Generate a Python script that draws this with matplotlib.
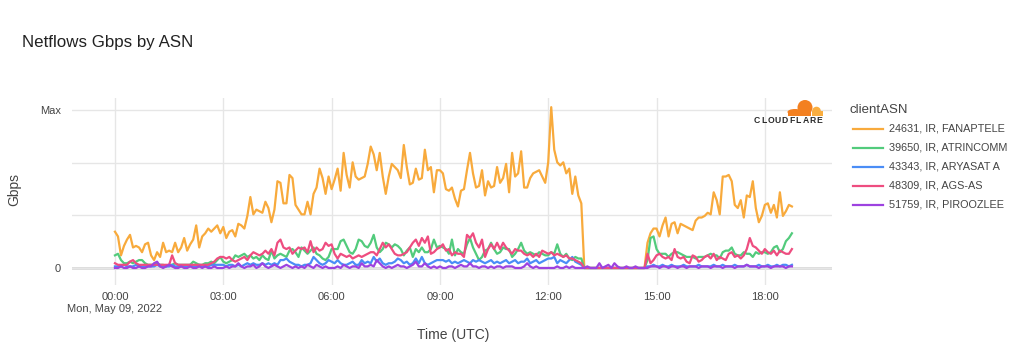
import numpy as np
import matplotlib.pyplot as plt
from matplotlib.lines import Line2D
from matplotlib.patches import Circle, Ellipse, Rectangle

plt.rcParams['font.family'] = ['Liberation Sans', 'DejaVu Sans']

# 5-minute samples from Mon, May 09, 2022 00:00 UTC, in % of Max
fanaptele = [
    23, 20, 8, 14, 18, 21, 13, 14, 13, 10, 15, 16,
    8, 5, 10, 7, 16, 10, 11, 10, 16, 10, 13, 19,
    11, 15, 18, 27, 13, 20, 22, 25, 23, 25, 27, 22,
    26, 19, 23, 24, 20, 28, 27, 25, 33, 45, 34, 37,
    36, 35, 42, 38, 29, 37, 55, 54, 41, 41, 59, 57,
    40, 37, 34, 34, 42, 34, 47, 51, 63, 57, 47, 58,
    50, 56, 63, 49, 73, 59, 51, 67, 58, 56, 57, 58,
    66, 77, 72, 62, 73, 58, 47, 58, 66, 64, 62, 57,
    78, 64, 53, 54, 63, 56, 57, 75, 62, 64, 48, 62,
    62, 60, 50, 49, 51, 44, 39, 49, 50, 62, 73, 60,
    51, 52, 62, 46, 55, 51, 52, 64, 54, 57, 66, 48,
    73, 58, 60, 74, 51, 51, 57, 60, 61, 62, 58, 54,
    67, 102, 75, 67, 65, 67, 60, 63, 47, 58, 46, 41,
    0, 0, 0, 0, 0, 0, 0, 0, 0, 0, 0, 0,
    0, 0, 0, 0, 0, 0, 0, 0, 0, 16, 22, 25,
    25, 20, 27, 32, 20, 28, 29, 22, 28, 27, 26, 25,
    24, 30, 32, 32, 33, 35, 34, 48, 43, 34, 58, 58,
    59, 55, 40, 38, 43, 32, 46, 45, 55, 38, 29, 33,
    40, 41, 35, 40, 32, 48, 33, 36, 40, 39,
]
atrincomm = [
    8, 9, 5, 3, 3, 4, 3, 4, 5, 5, 3, 2,
    2, 2, 3, 2, 2, 1, 2, 2, 3, 2, 2, 2,
    2, 2, 4, 3, 2, 2, 3, 3, 4, 3, 5, 7,
    4, 3, 4, 5, 8, 7, 8, 9, 7, 8, 6, 7,
    5, 8, 6, 5, 11, 6, 8, 9, 8, 7, 11, 12,
    10, 7, 13, 11, 9, 11, 13, 9, 8, 6, 5, 7,
    12, 12, 12, 17, 18, 14, 10, 9, 12, 18, 17, 14,
    13, 16, 21, 13, 10, 12, 16, 15, 13, 15, 14, 12,
    8, 11, 13, 7, 12, 10, 13, 10, 10, 12, 18, 13,
    14, 13, 12, 9, 18, 8, 12, 10, 9, 15, 19, 13,
    9, 5, 7, 11, 12, 16, 12, 9, 10, 13, 12, 12,
    7, 9, 12, 16, 11, 9, 10, 9, 8, 10, 9, 8,
    8, 10, 9, 15, 9, 7, 9, 6, 5, 7, 6, 6,
    0, 0, 0, 0, 0, 0, 0, 0, 0, 0, 0, 0,
    0, 0, 0, 0, 0, 0, 0, 0, 0, 5, 19, 20,
    12, 9, 9, 9, 7, 9, 10, 10, 9, 8, 7, 7,
    7, 6, 7, 7, 7, 8, 9, 8, 8, 6, 10, 11,
    11, 13, 9, 8, 8, 10, 9, 9, 7, 10, 9, 10,
    10, 9, 10, 13, 14, 10, 12, 17, 19, 22,
]
aryasat = [
    1, 1, 1, 2, 1, 1, 1, 2, 1, 1, 1, 1,
    1, 1, 2, 1, 1, 1, 1, 2, 1, 1, 1, 1,
    1, 2, 1, 1, 2, 1, 1, 1, 2, 2, 2, 2,
    2, 1, 2, 2, 1, 2, 1, 2, 3, 2, 3, 2,
    2, 3, 2, 3, 2, 3, 2, 5, 5, 6, 4, 3,
    2, 2, 1, 2, 2, 3, 7, 5, 3, 2, 3, 5,
    4, 3, 5, 3, 2, 2, 3, 4, 2, 2, 5, 3,
    4, 3, 7, 4, 6, 3, 2, 3, 3, 4, 6, 5,
    3, 4, 2, 3, 6, 3, 7, 3, 2, 3, 4, 5,
    5, 5, 4, 5, 3, 4, 3, 4, 5, 4, 3, 5,
    4, 5, 4, 3, 4, 5, 3, 4, 3, 4, 5, 3,
    4, 5, 3, 4, 4, 6, 3, 4, 5, 3, 4, 5,
    6, 6, 7, 3, 5, 4, 3, 5, 7, 4, 3, 2,
    0, 0, 0, 0, 0, 0, 0, 0, 0, 0, 0, 0,
    0, 0, 0, 0, 0, 0, 0, 0, 0, 1, 1, 2,
    1, 1, 2, 1, 1, 2, 1, 1, 1, 2, 1, 1,
    1, 1, 2, 1, 1, 1, 1, 2, 1, 1, 2, 1,
    1, 1, 2, 1, 1, 1, 2, 1, 1, 1, 2, 1,
    1, 2, 1, 1, 2, 1, 2, 2, 1, 2,
]
ags_as = [
    3, 2, 2, 2, 2, 4, 5, 3, 2, 2, 2, 2,
    2, 2, 2, 2, 2, 2, 2, 8, 3, 2, 2, 2,
    2, 2, 2, 2, 2, 2, 2, 2, 3, 4, 6, 7,
    7, 6, 7, 5, 4, 5, 6, 7, 5, 8, 10, 9,
    8, 9, 11, 9, 12, 8, 16, 18, 13, 12, 13, 9,
    11, 13, 12, 13, 10, 17, 10, 13, 11, 12, 16, 14,
    15, 9, 6, 9, 8, 7, 8, 6, 7, 8, 7, 8,
    9, 10, 10, 8, 12, 16, 13, 15, 12, 9, 8, 8,
    9, 10, 13, 16, 18, 14, 19, 16, 20, 9, 10, 12,
    13, 15, 11, 12, 8, 10, 9, 9, 7, 21, 19, 22,
    16, 13, 18, 7, 12, 15, 12, 16, 12, 16, 13, 11,
    9, 12, 11, 11, 9, 8, 9, 7, 9, 7, 11, 10,
    9, 10, 8, 9, 8, 7, 8, 6, 6, 5, 4, 3,
    0, 0, 0, 0, 0, 0, 0, 0, 0, 0, 0, 0,
    0, 0, 0, 0, 0, 0, 0, 0, 0, 9, 3, 5,
    8, 9, 7, 6, 7, 5, 12, 7, 6, 7, 4, 3,
    8, 7, 4, 5, 7, 8, 6, 9, 5, 7, 6, 5,
    9, 10, 7, 8, 6, 8, 12, 19, 14, 13, 11, 9,
    12, 10, 9, 11, 8, 11, 10, 9, 9, 12,
]
piroozlee = [
    0, 0, 1, 0, 0, 1, 0, 0, 1, 0, 0, 1,
    1, 3, 4, 1, 0, 1, 2, 1, 0, 0, 1, 0,
    0, 1, 0, 0, 1, 0, 1, 0, 0, 1, 0, 0,
    0, 1, 0, 1, 1, 3, 1, 0, 1, 1, 2, 0,
    1, 3, 1, 0, 1, 2, 1, 0, 1, 2, 1, 0,
    1, 0, 1, 0, 2, 1, 0, 2, 1, 0, 1, 0,
    0, 0, 1, 0, 2, 1, 0, 1, 1, 0, 3, 1,
    1, 2, 1, 5, 3, 1, 0, 1, 0, 1, 2, 1,
    1, 0, 1, 2, 4, 1, 1, 3, 1, 0, 1, 0,
    1, 0, 0, 1, 1, 0, 1, 2, 1, 1, 3, 1,
    1, 0, 1, 1, 0, 1, 0, 1, 1, 0, 1, 1,
    1, 0, 0, 0, 1, 3, 1, 0, 1, 0, 0, 0,
    0, 0, 0, 1, 0, 0, 1, 0, 1, 0, 0, 0,
    0, 1, 0, 0, 0, 3, 0, 1, 2, 0, 3, 1,
    0, 0, 1, 0, 0, 1, 0, 0, 0, 0, 1, 1,
    1, 0, 1, 1, 0, 1, 1, 0, 1, 1, 0, 1,
    1, 1, 0, 1, 1, 1, 0, 1, 1, 1, 0, 1,
    1, 1, 0, 1, 1, 1, 2, 1, 1, 1, 0, 1,
    1, 1, 0, 1, 1, 1, 1, 0, 1, 1,
]

series = [fanaptele, atrincomm, aryasat, ags_as, piroozlee]
names = ['24631, IR, FANAPTELE', '39650, IR, ATRINCOMM', '43343, IR, ARYASAT A',
         '48309, IR, AGS-AS', '51759, IR, PIROOZLEE']
colors = ['#F8AA3C', '#52CB7C', '#4A8DF6', '#EE4D80', '#9D42E0']

hour_ticks = [0, 3, 6, 9, 12, 15, 18]
hour_labels = ['00:00\nMon, May 09, 2022', '03:00', '06:00', '09:00', '12:00', '15:00', '18:00']

W, H = 1027, 357
fig = plt.figure(figsize=(W / 100, H / 100), dpi=100)

# plot area in pixels: x 72..832, y 98..285
ax = fig.add_axes([72 / W, 1 - 285 / H, (832 - 72) / W, (285 - 98) / H])
hours = np.arange(len(fanaptele)) * 5 / 60
for vals, name, c in zip(series, names, colors):
    ax.plot(hours, vals, color=c, lw=1.6, solid_joinstyle='round', label=name, zorder=3)

ax.set_xlim(-1.19, 19.86)
ax.set_ylim(-10.8, 107.8)
ax.set_yticks([0, 100 / 3, 200 / 3, 100])
ax.set_yticklabels(['0', '', '', 'Max'])
ax.set_xticks(hour_ticks)
ax.set_xticklabels(hour_labels, multialignment='center', linespacing=1.25)
ax.tick_params(length=0, labelsize=8, colors='#444444')
ax.tick_params(axis='y', pad=8)
ax.tick_params(axis='x', pad=5)
ax.grid(True, color='#E6E6E6', lw=1)
ax.axhline(0, color='#D9D9D9', lw=2, zorder=1)
for s in ax.spines.values():
    s.set_visible(False)

# overlay in pixel coordinates for text, legend and logo
ov = fig.add_axes([0, 0, 1, 1], zorder=5)
ov.set_xlim(0, W)
ov.set_ylim(H, 0)
ov.axis('off')
ov.patch.set_alpha(0)

ov.text(22, 42, 'Netflows Gbps by ASN', fontsize=12.2, color='#222222', va='center')
ov.text(14, 190, 'Gbps', fontsize=10, color='#444444', rotation=90, va='center', ha='center')
ov.text(453, 335, 'Time (UTC)', fontsize=10, color='#444444', va='center', ha='center')

ov.text(850, 110, 'clientASN', fontsize=9.5, color='#444444', va='center')
for k, (name, c) in enumerate(zip(names, colors)):
    y = 128.5 + 19 * k
    ov.add_line(Line2D([853, 883], [y, y], color=c, lw=1.6))
    ov.text(889, y, name, fontsize=7.85, color='#444444', va='center')

# Cloudflare logo
ov.add_patch(Circle((805, 107.5), 7.5, color='#F38020', lw=0))
ov.add_patch(Ellipse((795, 112), 15, 6, color='#F38020', lw=0))
ov.add_patch(Rectangle((788, 111), 23, 4.5, color='#F38020', lw=0))
ov.add_patch(Circle((816.5, 111), 4.3, color='#FAAE40', lw=0))
ov.add_patch(Rectangle((811.5, 111), 11, 4.5, color='#FAAE40', lw=0))
for j, ch in enumerate('CLOUDFLARE'):
    ov.text(756.5 + 7 * j, 120.5, ch, fontsize=6.2, fontweight='heavy', color='#2B2B2B',
            ha='center', va='center')

fig.savefig('out.png', dpi=100)
